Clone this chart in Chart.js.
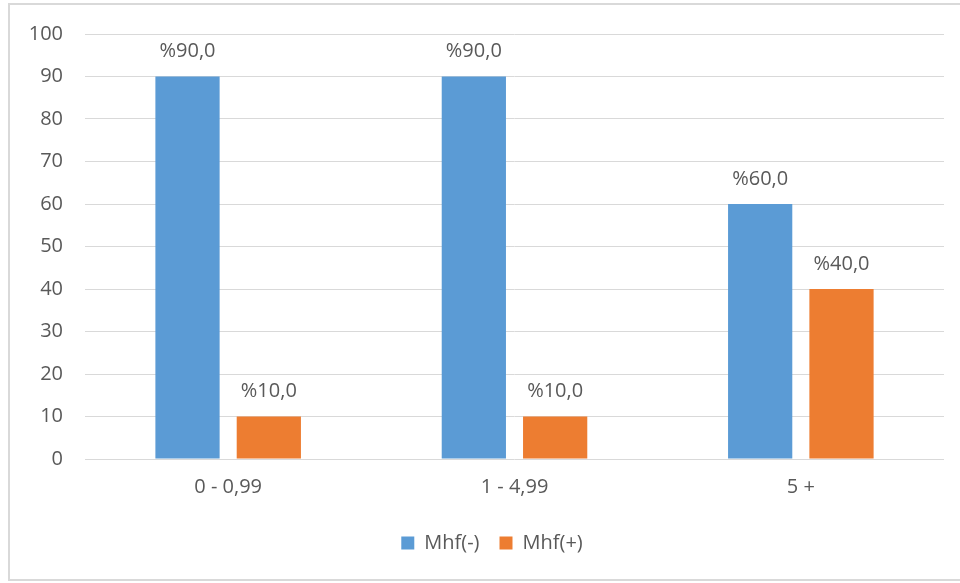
<!DOCTYPE html>
<html>
<head>
<meta charset="utf-8">
<script src="https://cdn.jsdelivr.net/npm/chart.js@4"></script>
<style>
  html, body { margin: 0; padding: 0; background: #fff; }
  #wrap {
    position: absolute; left: 8px; top: 3px;
    width: 952px; height: 574px;
    border: 2px solid #d9d9d9; border-right: none;
  }
  canvas { display: block; }
</style>
</head>
<body>
<div id="wrap"><canvas id="chart" width="952" height="574"></canvas></div>
<script>
// veriler
const categories = ['0 - 0,99', '1 - 4,99', '5 +'];
const mhfNeg = [90, 90, 60];
const mhfPos = [10, 10, 40];
const yTicks = [0, 10, 20, 30, 40, 50, 60, 70, 80, 90, 100];

const TEXT = '#595959';
const FONT = "'Open Sans', sans-serif";
const FSIZE = 20;

// yüzde etiketleri: "%90,0"
function pctLabel(v) {
  return '%' + v.toFixed(1).replace('.', ',');
}

const barValueLabels = {
  id: 'barValueLabels',
  afterDatasetsDraw(chart) {
    const ctx = chart.ctx;
    chart.data.datasets.forEach((ds, di) => {
      const meta = chart.getDatasetMeta(di);
      meta.data.forEach((bar, i) => {
        ctx.save();
        ctx.fillStyle = TEXT;
        ctx.font = FSIZE + 'px ' + FONT;
        ctx.textAlign = 'center';
        ctx.textBaseline = 'middle';
        ctx.fillText(pctLabel(ds.data[i]), bar.x, bar.y - 25);
        ctx.restore();
      });
    });
  }
};

// lejantı grafik alanının ortasına doğru biraz kaydır
const legendShift = {
  id: 'legendShift',
  afterLayout(chart) {
    if (chart.legend) { chart.legend.left += 15; chart.legend.right += 15; }
  }
};

new Chart(document.getElementById('chart'), {
  type: 'bar',
  data: {
    labels: categories,
    datasets: [
      { label: 'Mhf(-)', data: mhfNeg, backgroundColor: '#5b9bd5' },
      { label: 'Mhf(+)', data: mhfPos, backgroundColor: '#ed7d31' }
    ]
  },
  options: {
    responsive: false,
    animation: false,
    categoryPercentage: 0.568,
    barPercentage: 0.79,
    layout: { padding: { top: 29, right: 18, left: 0, bottom: 16 } },
    plugins: {
      legend: {
        position: 'bottom',
        labels: {
          boxWidth: 13, boxHeight: 13, padding: 20,
          color: TEXT, font: { family: FONT, size: FSIZE }
        }
      },
      tooltip: { enabled: false }
    },
    scales: {
      x: {
        grid: { display: false },
        border: { display: false },
        ticks: { color: TEXT, font: { family: FONT, size: FSIZE }, padding: 8 },
        afterFit: s => { s.height = 54; s.paddingLeft = 0; s.paddingRight = 0; }
      },
      y: {
        min: 0, max: 100,
        afterBuildTicks: s => { s.ticks = yTicks.map(v => ({ value: v })); },
        grid: { color: '#d9d9d9', lineWidth: 1, drawTicks: false },
        border: { display: false },
        ticks: { color: TEXT, font: { family: FONT, size: FSIZE }, padding: 22 },
        afterFit: s => { s.width = 75; s.paddingTop = 0; s.paddingBottom = 0; }
      }
    }
  },
  plugins: [barValueLabels, legendShift]
});
</script>
</body>
</html>
